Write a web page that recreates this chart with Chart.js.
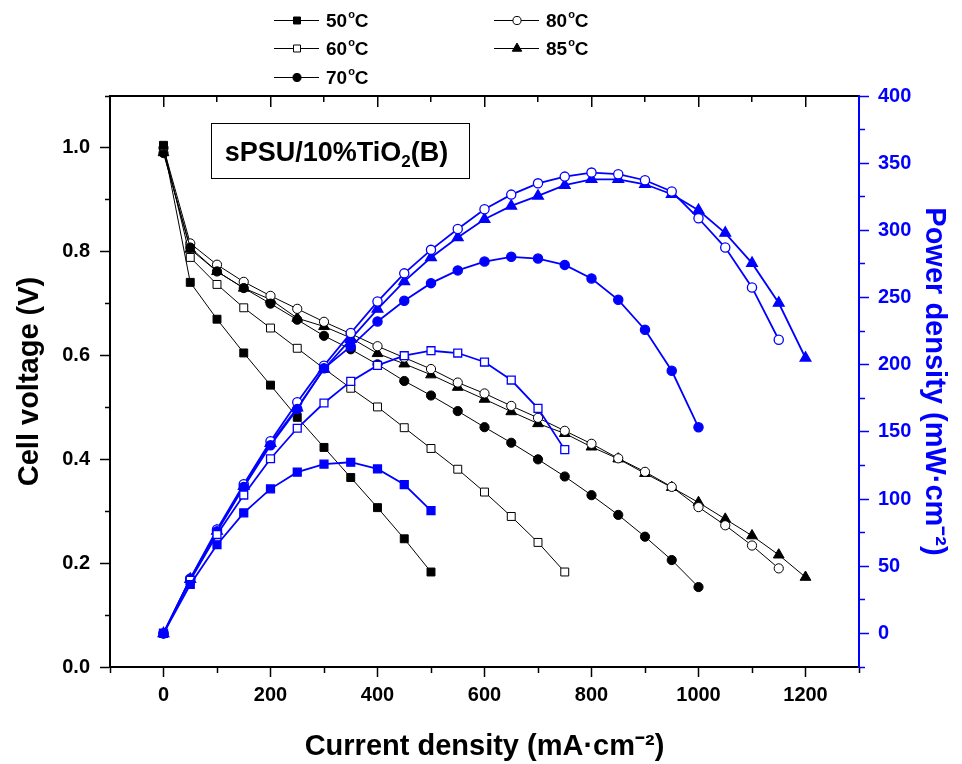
<!DOCTYPE html>
<html>
<head>
<meta charset="utf-8">
<script src="https://cdn.jsdelivr.net/npm/chart.js@4.4.0/dist/chart.umd.min.js"></script>
<style>
  html, body { margin: 0; padding: 0; background: #fff; }
  canvas { display: block; }
</style>
</head>
<body>
<canvas id="fc" width="962" height="764"></canvas>
<script>
// current density steps (mA/cm2)
const current = [0, 50, 100, 150, 200, 250, 300, 350, 400, 450, 500, 550, 600,
                 650, 700, 750, 800, 850, 900, 950, 1000, 1050, 1100, 1150, 1200];

// cell voltage (V)
const volt50 = [1.005, 0.741, 0.670, 0.605, 0.543, 0.481, 0.423, 0.365, 0.307, 0.247, 0.183];
const volt60 = [1.003, 0.789, 0.737, 0.692, 0.653, 0.614, 0.575, 0.537, 0.501, 0.461, 0.421,
                0.381, 0.337, 0.290, 0.240, 0.183];
const volt70 = [0.990, 0.808, 0.762, 0.730, 0.700, 0.669, 0.638, 0.612, 0.583, 0.551, 0.523,
                0.493, 0.462, 0.432, 0.400, 0.367, 0.331, 0.293, 0.251, 0.206, 0.154];
const volt80 = [1.000, 0.816, 0.775, 0.742, 0.715, 0.690, 0.665, 0.642, 0.618, 0.596, 0.574,
                0.548, 0.527, 0.503, 0.480, 0.455, 0.430, 0.402, 0.376, 0.347, 0.308, 0.273,
                0.234, 0.190];
const volt85 = [0.991, 0.805, 0.762, 0.730, 0.708, 0.672, 0.656, 0.634, 0.604, 0.584, 0.563,
                0.539, 0.516, 0.492, 0.469, 0.450, 0.424, 0.401, 0.373, 0.346, 0.317, 0.285,
                0.253, 0.216, 0.173];

// power density (mW/cm2)
const pow50 = [0, 36.4, 66.0, 89.7, 107.6, 120.0, 126.0, 127.4, 122.4, 110.8, 91.4];
const pow60 = [0, 39.5, 73.6, 103.0, 130.0, 152.7, 171.5, 187.6, 199.5, 206.7, 210.4,
               208.7, 202.0, 188.6, 167.5, 136.8];
const pow70 = [0, 40.4, 76.0, 109.0, 140.0, 167.0, 197.3, 213.6, 232.2, 247.6, 260.7,
               270.2, 276.8, 280.3, 279.0, 274.3, 264.2, 248.3, 226.0, 195.5, 153.4];
const pow80 = [0, 40.8, 77.3, 111.0, 143.0, 172.0, 199.3, 223.6, 247.0, 268.0, 285.5,
               301.0, 315.7, 326.6, 335.0, 340.0, 343.0, 341.8, 337.3, 328.9, 309.0, 287.2,
               257.5, 218.6];
const pow85 = [0, 40.3, 76.2, 109.5, 141.6, 168.0, 196.8, 219.0, 241.4, 262.0, 279.8,
               294.7, 308.3, 318.2, 325.6, 333.6, 338.0, 338.0, 334.3, 326.9, 315.0, 298.0,
               275.6, 245.9, 205.0];

const temps = ['50', '60', '70', '80', '85'];

const FONT = "'Liberation Sans', Arial, Helvetica, sans-serif";
const BLUE = '#0000ff';

const series = [
  { t: temps[0], v: volt50, p: pow50, shape: 'rect', filled: true },
  { t: temps[1], v: volt60, p: pow60, shape: 'rect', filled: false },
  { t: temps[2], v: volt70, p: pow70, shape: 'circle', filled: true },
  { t: temps[3], v: volt80, p: pow80, shape: 'circle', filled: false },
  { t: temps[4], v: volt85, p: pow85, shape: 'triangle', filled: true }
];

function radiusFor(shape) {
  if (shape === 'circle') return 4.6;
  if (shape === 'rect') return 5.6;
  return 6.2;
}

const datasets = [];
series.forEach(s => {
  datasets.push({
    label: s.t + '°C',
    data: s.v.map((y, i) => ({ x: current[i], y: y })),
    yAxisID: 'y',
    showLine: true,
    borderColor: '#000',
    borderWidth: 1,
    pointStyle: s.shape,
    pointRadius: radiusFor(s.shape),
    pointBackgroundColor: s.filled ? '#000' : '#fff',
    pointBorderColor: '#000',
    pointBorderWidth: 1,
    order: 2
  });
  datasets.push({
    label: s.t + '°C power',
    data: s.p.map((y, i) => ({ x: current[i], y: y })),
    yAxisID: 'y1',
    showLine: true,
    borderColor: BLUE,
    borderWidth: 1.8,
    pointStyle: s.shape,
    pointRadius: radiusFor(s.shape),
    pointBackgroundColor: s.filled ? BLUE : '#fff',
    pointBorderColor: BLUE,
    pointBorderWidth: 1.3,
    order: 1
  });
});

function drawMark(ctx, shape, x, y, r, fill, stroke) {
  ctx.beginPath();
  if (shape === 'circle') {
    ctx.arc(x, y, r, 0, Math.PI * 2);
  } else if (shape === 'rect') {
    const h = r * Math.SQRT1_2;
    ctx.rect(x - h, y - h, 2 * h, 2 * h);
  } else {
    ctx.moveTo(x, y - r);
    ctx.lineTo(x + r * 0.866, y + r * 0.5);
    ctx.lineTo(x - r * 0.866, y + r * 0.5);
    ctx.closePath();
  }
  ctx.fillStyle = fill;
  ctx.fill();
  ctx.lineWidth = 1;
  ctx.strokeStyle = stroke;
  ctx.stroke();
}

// legend (top, two columns) + sample label box
const decor = {
  id: 'decor',
  afterDraw(chart) {
    const ctx = chart.ctx;
    ctx.save();
    const spots = [[274, 20], [274, 48], [274, 77], [494, 20], [494, 48]];
    series.forEach((s, i) => {
      const [lx, ly] = spots[i];
      ctx.strokeStyle = '#000';
      ctx.lineWidth = 1;
      ctx.beginPath();
      ctx.moveTo(lx, ly + 0.5);
      ctx.lineTo(lx + 45, ly + 0.5);
      ctx.stroke();
      drawMark(ctx, s.shape, lx + 23, ly + 0.5, radiusFor(s.shape) * 0.88,
               s.filled ? '#000' : '#fff', '#000');
      ctx.fillStyle = '#000';
      ctx.textBaseline = 'alphabetic';
      ctx.textAlign = 'left';
      let tx = lx + 52;
      ctx.font = 'bold 19px ' + FONT;
      ctx.fillText(s.t, tx, ly + 7);
      tx += ctx.measureText(s.t).width + 1;
      ctx.font = 'bold 11px ' + FONT;
      ctx.fillText('o', tx, ly - 2);
      tx += ctx.measureText('o').width;
      ctx.font = 'bold 19px ' + FONT;
      ctx.fillText('C', tx, ly + 7);
    });

    // sample name box
    const a = chart.chartArea;
    const bx = a.left + 101.5, by = a.top + 27.5, bw = 258, bh = 55;
    ctx.strokeStyle = '#000';
    ctx.lineWidth = 1;
    ctx.strokeRect(bx, by, bw, bh);
    const big = 'bold 27px ' + FONT, small = 'bold 17px ' + FONT;
    ctx.font = big;
    const w1 = ctx.measureText('sPSU/10%TiO').width;
    const w3 = ctx.measureText('(B)').width;
    ctx.font = small;
    const w2 = ctx.measureText('2').width;
    let sx = bx + bw / 2 - (w1 + w2 + w3) / 2 - 4;
    const base = by + 37;
    ctx.fillStyle = '#000';
    ctx.font = big;
    ctx.fillText('sPSU/10%TiO', sx, base);
    sx += w1;
    ctx.font = small;
    ctx.fillText('2', sx, base + 6);
    sx += w2;
    ctx.font = big;
    ctx.fillText('(B)', sx, base);
    ctx.restore();
  }
};

function isMajor(v, step) {
  return Math.abs(v / step - Math.round(v / step)) < 1e-6;
}

new Chart(document.getElementById('fc'), {
  type: 'scatter',
  data: { datasets: datasets },
  options: {
    responsive: false,
    animation: false,
    devicePixelRatio: 1,
    layout: { padding: { top: 96, left: 0, right: 0, bottom: 0 } },
    plugins: { legend: { display: false }, tooltip: { enabled: false } },
    scales: {
      x: {
        type: 'linear',
        position: 'bottom',
        min: -100, max: 1300,
        afterFit: s => { s.height = 97; },
        border: { display: true, color: '#000', width: 2 },
        grid: {
          drawOnChartArea: false, drawTicks: true, tickLength: 10,
          tickColor: '#000', tickWidth: 1.5,
          tickBorderDash: c => isMajor(c.tick.value, 200) ? [] : [5, 100]
        },
        ticks: {
          stepSize: 100, autoSkip: false, maxRotation: 0, padding: 6,
          color: '#000', font: { family: FONT, size: 20, weight: 'bold' },
          callback: v => (isMajor(v, 200) && v >= 0) ? String(v) : ''
        },
        title: {
          display: true, text: 'Current density (mA·cm⁻²)', color: '#000',
          font: { family: FONT, size: 29, weight: 'bold' },
          padding: { top: 0, bottom: 0 }
        }
      },
      xt: {
        type: 'linear',
        position: 'top',
        min: -100, max: 1300,
        afterFit: s => { s.height = 0; },
        border: {
          display: true, color: '#000', width: 2,
          dash: c => isMajor(c.tick.value, 200) ? [10, 3000] : [5, 3000]
        },
        grid: { drawOnChartArea: true, drawTicks: false, color: '#000', lineWidth: 1.5 },
        ticks: { stepSize: 100, autoSkip: false, display: false }
      },
      y: {
        type: 'linear',
        position: 'left',
        min: 0, max: 1.1,
        afterFit: s => { s.width = 110; },
        border: { display: true, color: '#000', width: 2 },
        grid: {
          drawOnChartArea: false, drawTicks: true, tickLength: 10,
          tickColor: '#000', tickWidth: 1.5,
          tickBorderDash: c => isMajor(c.tick.value, 0.2) ? [] : [0, 5, 5, 100]
        },
        ticks: {
          stepSize: 0.1, autoSkip: false, padding: 10,
          color: '#000', font: { family: FONT, size: 20, weight: 'bold' },
          callback: v => isMajor(v, 0.2) ? v.toFixed(1) : ''
        },
        title: {
          display: true, text: 'Cell voltage (V)', color: '#000',
          font: { family: FONT, size: 29, weight: 'bold' },
          padding: { top: 13, bottom: 0 }
        }
      },
      y1: {
        type: 'linear',
        position: 'right',
        min: -25, max: 400,
        afterFit: s => { s.width = 103; },
        border: { display: true, color: BLUE, width: 2 },
        grid: {
          drawOnChartArea: false, drawTicks: true, tickLength: 10,
          tickColor: BLUE, tickWidth: 1.5,
          tickBorderDash: c => isMajor(c.tick.value, 50) ? [] : [5, 100]
        },
        ticks: {
          stepSize: 25, autoSkip: false, padding: 9,
          color: BLUE, font: { family: FONT, size: 20, weight: 'bold' },
          callback: v => isMajor(v, 50) ? String(v) : ''
        },
        title: {
          display: true, text: 'Power density (mW·cm⁻²)', color: BLUE,
          font: { family: FONT, size: 29, weight: 'bold' },
          padding: { top: 11, bottom: 0 }
        }
      }
    }
  },
  plugins: [decor]
});
</script>
</body>
</html>
